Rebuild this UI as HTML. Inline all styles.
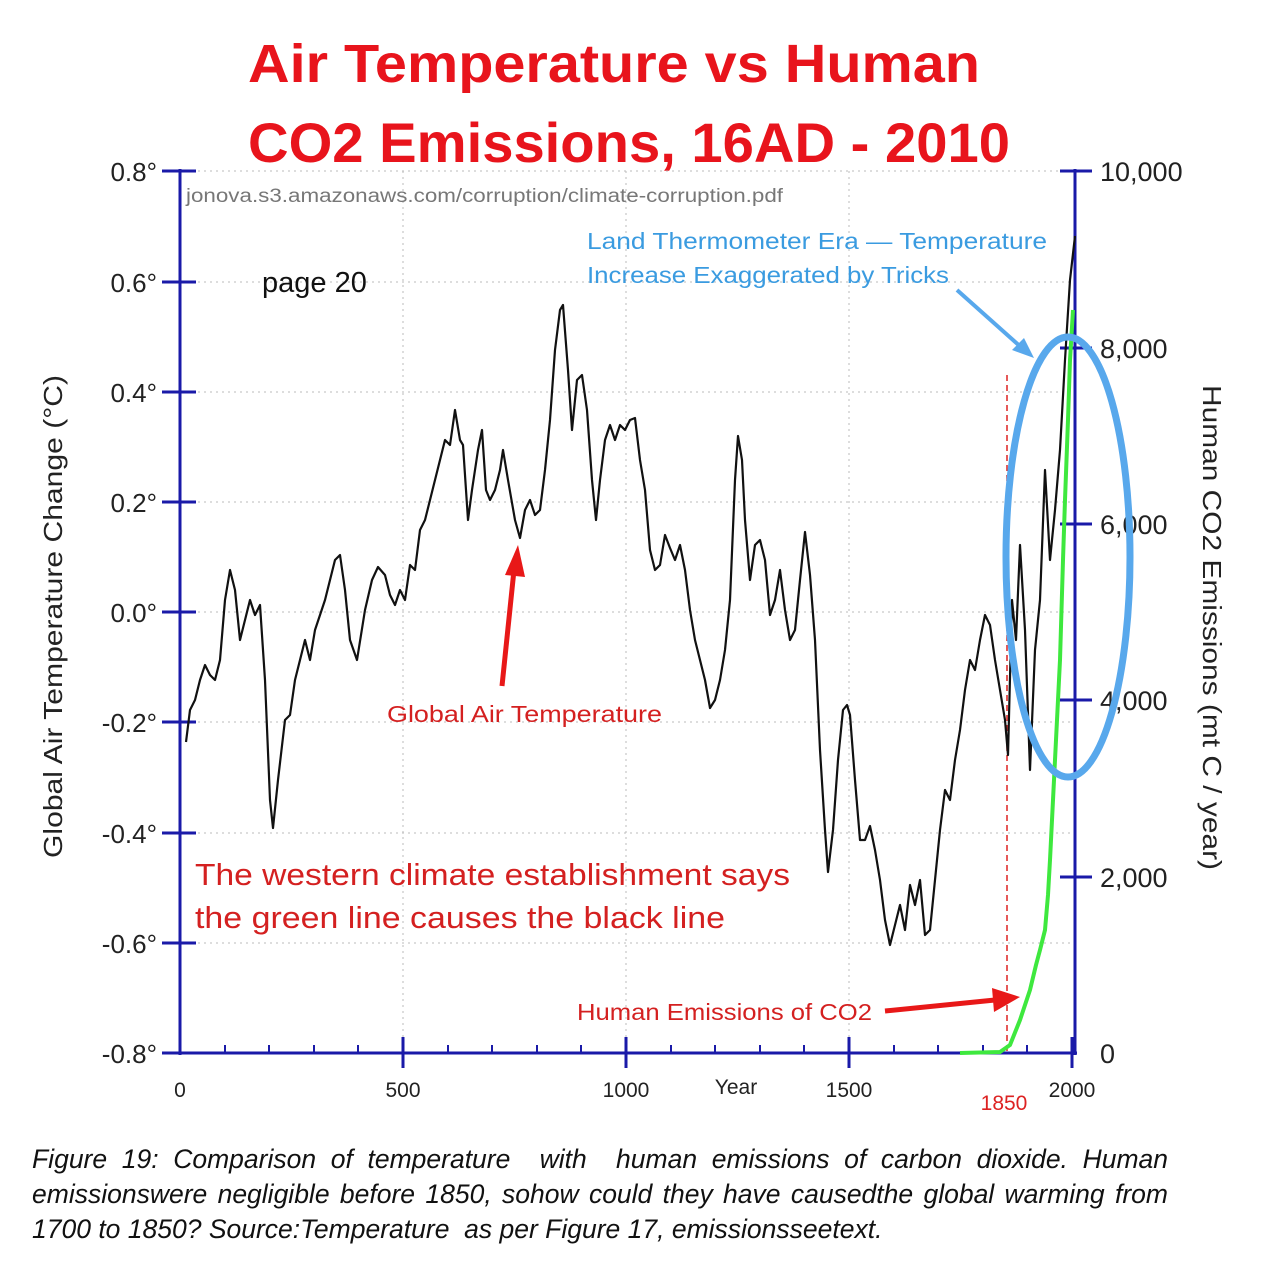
<!DOCTYPE html>
<html><head><meta charset="utf-8"><style>
body{margin:0;background:#fff;width:1268px;height:1274px;overflow:hidden;font-family:"Liberation Sans",sans-serif}
.cap{position:absolute;left:32px;width:1136px;font-style:italic;font-size:26.5px;line-height:35px;color:#111;letter-spacing:0;white-space:nowrap}
.j{text-align:justify;text-align-last:justify;white-space:normal}
</style></head><body>
<svg width="1268" height="1274" style="position:absolute;left:0;top:0" font-family="Liberation Sans, sans-serif">
<text x="248" y="82" font-size="54" font-weight="bold" fill="#e8141c" textLength="732" lengthAdjust="spacingAndGlyphs">Air Temperature vs Human</text>
<text x="248" y="162" font-size="56" font-weight="bold" fill="#e8141c" textLength="762" lengthAdjust="spacingAndGlyphs">CO2 Emissions, 16AD - 2010</text>
<g stroke="#bbb" stroke-dasharray="2,4" stroke-width="1">
<line x1="180" y1="171" x2="1075" y2="171"/><line x1="180" y1="282" x2="1075" y2="282"/><line x1="180" y1="392" x2="1075" y2="392"/><line x1="180" y1="502" x2="1075" y2="502"/><line x1="180" y1="612" x2="1075" y2="612"/><line x1="180" y1="722" x2="1075" y2="722"/><line x1="180" y1="833" x2="1075" y2="833"/><line x1="180" y1="943" x2="1075" y2="943"/>
<line x1="403" y1="171" x2="403" y2="1053"/><line x1="626" y1="171" x2="626" y2="1053"/><line x1="849" y1="171" x2="849" y2="1053"/>
</g>
<g stroke="#1a1aa8" stroke-width="3">
<line x1="180" y1="169" x2="180" y2="1055"/><line x1="1075" y1="169" x2="1075" y2="1055"/><line x1="178" y1="1053" x2="1077" y2="1053"/>
<line x1="162" y1="171" x2="196" y2="171"/><line x1="162" y1="282" x2="196" y2="282"/><line x1="162" y1="392" x2="196" y2="392"/><line x1="162" y1="502" x2="196" y2="502"/><line x1="162" y1="612" x2="196" y2="612"/><line x1="162" y1="722" x2="196" y2="722"/><line x1="162" y1="833" x2="196" y2="833"/><line x1="162" y1="943" x2="196" y2="943"/><line x1="162" y1="1053" x2="196" y2="1053"/>
<line x1="1060" y1="171" x2="1092" y2="171"/><line x1="1060" y1="348" x2="1092" y2="348"/><line x1="1060" y1="524" x2="1092" y2="524"/><line x1="1060" y1="700" x2="1092" y2="700"/><line x1="1060" y1="877" x2="1092" y2="877"/>
<line x1="403" y1="1037" x2="403" y2="1068"/><line x1="626" y1="1037" x2="626" y2="1068"/><line x1="849" y1="1037" x2="849" y2="1068"/><line x1="1072" y1="1037" x2="1072" y2="1068"/>
</g>
<g stroke="#1a1aa8" stroke-width="2">
<line x1="225" y1="1045" x2="225" y2="1053"/><line x1="269" y1="1045" x2="269" y2="1053"/><line x1="314" y1="1045" x2="314" y2="1053"/><line x1="358" y1="1045" x2="358" y2="1053"/><line x1="448" y1="1045" x2="448" y2="1053"/><line x1="492" y1="1045" x2="492" y2="1053"/><line x1="537" y1="1045" x2="537" y2="1053"/><line x1="581" y1="1045" x2="581" y2="1053"/><line x1="671" y1="1045" x2="671" y2="1053"/><line x1="715" y1="1045" x2="715" y2="1053"/><line x1="760" y1="1045" x2="760" y2="1053"/><line x1="804" y1="1045" x2="804" y2="1053"/><line x1="894" y1="1045" x2="894" y2="1053"/><line x1="938" y1="1045" x2="938" y2="1053"/><line x1="983" y1="1045" x2="983" y2="1053"/><line x1="1027" y1="1045" x2="1027" y2="1053"/>
</g>
<g font-size="26" fill="#222" text-anchor="end">
<text x="157" y="181">0.8°</text><text x="157" y="292">0.6°</text><text x="157" y="402">0.4°</text><text x="157" y="512">0.2°</text><text x="157" y="622">0.0°</text><text x="157" y="732">-0.2°</text><text x="157" y="843">-0.4°</text><text x="157" y="953">-0.6°</text><text x="157" y="1063">-0.8°</text>
</g>
<g font-size="27" fill="#222">
<text x="1100" y="181">10,000</text><text x="1100" y="358">8,000</text><text x="1100" y="534">6,000</text><text x="1100" y="710">4,000</text><text x="1100" y="887">2,000</text><text x="1100" y="1063">0</text>
</g>
<g font-size="21" fill="#222" text-anchor="middle">
<text x="180" y="1097">0</text><text x="403" y="1097">500</text><text x="626" y="1097">1000</text><text x="849" y="1097">1500</text><text x="1072" y="1097">2000</text><text x="736" y="1094">Year</text>
</g>
<text x="1004" y="1110" font-size="21" fill="#d22" text-anchor="middle">1850</text>
<text transform="translate(62,375) rotate(90) scale(-1,-1)" font-size="26" fill="#222" x="-483" textLength="483" lengthAdjust="spacingAndGlyphs">Global Air Temperature Change  (°C)</text>
<text transform="translate(1203,385) rotate(90)" font-size="26" fill="#222" textLength="485" lengthAdjust="spacingAndGlyphs">Human CO2 Emissions  (mt C / year)</text>
<text x="186" y="202" font-size="19" fill="#777" textLength="597" lengthAdjust="spacingAndGlyphs">jonova.s3.amazonaws.com/corruption/climate-corruption.pdf</text>
<text x="262" y="292" font-size="29" fill="#111">page 20</text>
<text x="587" y="249" font-size="23" fill="#3a9be0" textLength="460" lengthAdjust="spacingAndGlyphs">Land Thermometer Era — Temperature</text>
<text x="587" y="283" font-size="23" fill="#3a9be0" textLength="362" lengthAdjust="spacingAndGlyphs">Increase Exaggerated by Tricks</text>
<text x="387" y="722" font-size="23" fill="#d42020" textLength="275" lengthAdjust="spacingAndGlyphs">Global Air Temperature</text>
<text x="195" y="885" font-size="31" fill="#d42020" textLength="595" lengthAdjust="spacingAndGlyphs">The western climate establishment says</text>
<text x="195" y="928" font-size="31" fill="#d42020" textLength="530" lengthAdjust="spacingAndGlyphs">the green line causes the black line</text>
<text x="577" y="1020" font-size="23" fill="#d42020" textLength="295" lengthAdjust="spacingAndGlyphs">Human Emissions of CO2</text>
<line x1="1007" y1="375" x2="1007" y2="1053" stroke="#d22" stroke-width="1.5" stroke-dasharray="6,4"/>
<polyline fill="none" stroke="#111" stroke-width="2.2" stroke-linejoin="round" points="186,742 190,710 195,700 200,680 205,665 210,675 215,680 220,660 225,600 230,570 235,590 240,640 245,620 250,600 255,615 260,605 265,680 270,800 273,828 278,780 285,720 290,715 295,680 300,660 305,640 310,660 315,630 325,600 335,560 340,555 345,590 350,640 357,660 365,610 372,580 378,567 385,575 390,595 395,605 400,590 405,600 410,565 415,570 420,530 425,520 430,500 435,480 440,460 445,440 450,445 455,410 460,440 463,445 468,520 472,490 478,450 482,430 486,490 490,500 495,490 500,470 503,450 508,480 515,520 520,538 525,510 530,500 535,515 540,510 545,470 550,420 555,350 560,310 563,305 568,370 572,430 577,380 582,375 587,410 592,480 596,520 600,480 605,440 610,425 615,440 620,425 625,430 630,420 635,418 640,460 645,490 650,550 655,570 660,565 665,535 670,548 675,560 680,545 685,570 690,610 695,640 700,660 705,680 710,708 715,700 720,680 725,650 730,600 735,480 738,436 742,460 745,520 750,580 755,545 760,540 765,560 770,615 775,600 780,570 785,610 790,640 795,630 800,580 805,532 810,575 815,640 820,750 825,830 828,872 833,830 838,760 843,710 847,705 850,715 855,780 860,840 865,840 870,826 875,850 880,880 885,920 890,945 895,925 900,905 905,930 910,885 915,905 920,880 925,935 930,930 935,880 940,830 945,790 950,800 955,760 960,730 965,690 970,660 975,670 980,640 985,615 990,625 995,660 1000,690 1005,720 1008,755 1012,600 1016,640 1020,545 1025,630 1030,770 1035,650 1040,600 1045,470 1050,560 1055,510 1060,450 1065,360 1070,280 1075,236"/>
<polyline fill="none" stroke="#3ee83e" stroke-width="4" points="960,1053 1000,1052 1010,1045 1020,1020 1030,990 1036,965 1040,950 1045,930 1048,895 1050,860 1053,800 1055,760 1058,700 1060,660 1063,560 1065,500 1068,420 1070,360 1073,310"/>
<ellipse cx="1068" cy="557" rx="62" ry="220" fill="none" stroke="#58a8ec" stroke-width="7"/>
<line x1="957" y1="290" x2="1022" y2="348" stroke="#58a8ec" stroke-width="4"/>
<polygon points="1034,358 1012,350 1024,338" fill="#58a8ec"/>
<line x1="502" y1="686" x2="514" y2="570" stroke="#e81818" stroke-width="5"/>
<polygon points="518,545 505,575 525,577" fill="#e81818"/>
<line x1="885" y1="1011" x2="995" y2="1000" stroke="#e81818" stroke-width="5"/>
<polygon points="1020,997 992,988 994,1012" fill="#e81818"/>
</svg>
<div class="cap j" style="top:1142px">Figure 19: Comparison of temperature &nbsp;with &nbsp;human emissions of carbon dioxide. Human</div>
<div class="cap j" style="top:1177px">emissionswere negligible before 1850, sohow could they have causedthe global warming from</div>
<div class="cap" style="top:1212px">1700 to 1850? Source:Temperature &nbsp;as per Figure 17, emissionsseetext.</div>
</body></html>
